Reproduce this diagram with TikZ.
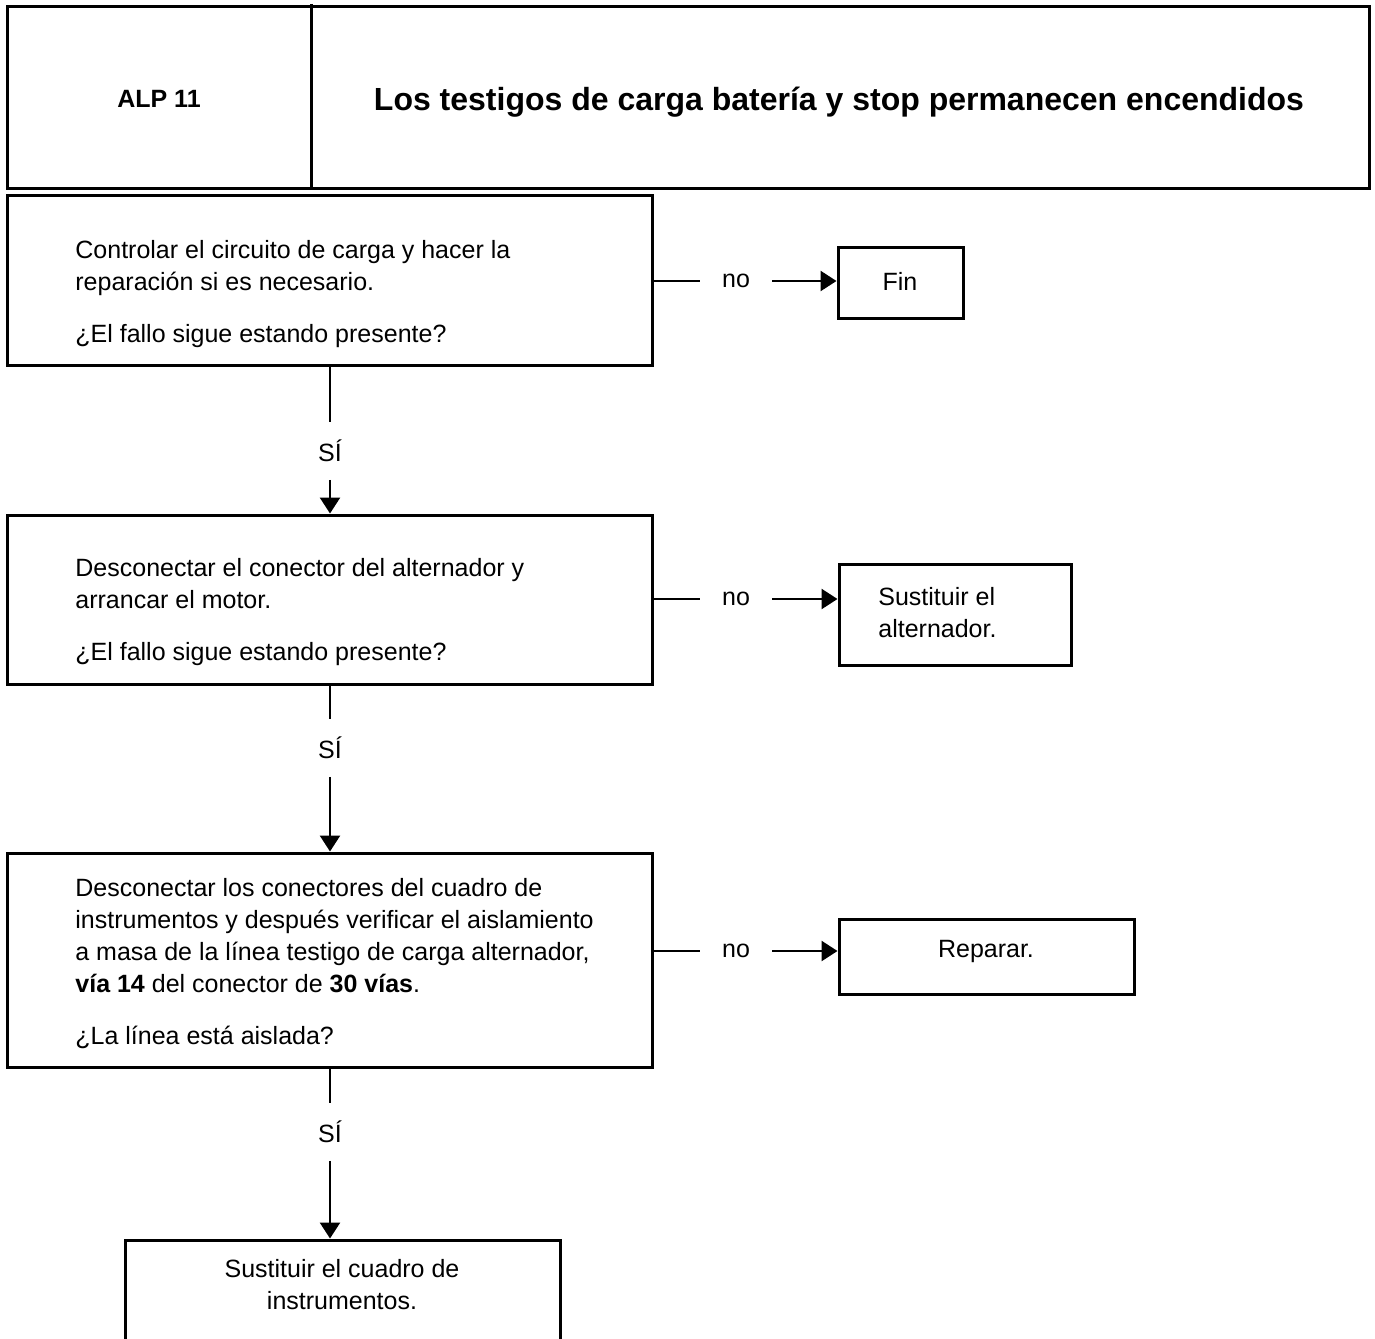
\documentclass[tikz,border=0pt]{standalone}
\usepackage{fontspec}
\setmainfont{Liberation Sans}
\usetikzlibrary{arrows.meta,fit}
\begin{document}
\begin{tikzpicture}[x=0.5pt,y=-0.5pt,
  frame/.style={draw,line width=1.5pt,inner sep=0pt},
  body/.style={inner sep=0pt,font=\fontsize{12.5pt}{16pt}\selectfont,align=left},
  lbl/.style={inner sep=0pt,font=\fontsize{12.5pt}{16pt}\selectfont},
  link/.style={line width=1.3pt},
  flow/.style={link,-{Triangle[length=8pt,width=10pt]}},
  nolbl/.style={lbl,inner xsep=11pt},
  silbl/.style={lbl,minimum height=28.5pt}]
\useasboundingbox (0,0) rectangle (1375,1338);
\clip (0,0) rectangle (1375,1338);

% header
\node[frame,fit={(7,7)(1369,188)}] (head) {};
\draw[line width=1.5pt] (311,4) -- (311,188);
\node[anchor=base,inner sep=0pt,font=\bfseries\fontsize{12.5pt}{15pt}\selectfont] (code) at (159,108) {ALP 11};
\node[anchor=base,inner sep=0pt,font=\bfseries\fontsize{16pt}{19pt}\selectfont] (title) at (839,111) {Los testigos de carga batería y stop permanecen encendidos};

% step 1
\node[frame,fit={(7,195)(652,365)}] (b1) {};
\node[body,anchor=north west] (t1) at (75,240) {Controlar el circuito de carga y hacer la\\ reparación si es necesario.\\[10pt] ¿El fallo sigue estando presente?};
\node[frame,fit={(838,247)(963,318)}] (fin) {};
\node[lbl] (tfin) at (900,281) {Fin};
\node[nolbl] (n1) at (736,281) {no};
\draw[link] (n1.west -| b1.east) -- (n1.west);
\draw[flow] (n1.east) -- (fin.west |- n1);

\node[silbl] (s1) at (330,451) {SÍ};
\draw[link] (b1.south -| s1) -- (s1.north);

% step 2
\node[frame,fit={(7,515)(652,684)}] (b2) {};
\draw[flow] (s1.south) -- (b2.north -| s1);
\node[body,anchor=north west] (t2) at (75,558) {Desconectar el conector del alternador y\\ arrancar el motor.\\[10pt] ¿El fallo sigue estando presente?};
\node[frame,fit={(839,564)(1071,665)}] (alt) {};
\node[body,anchor=north west] (talt) at (878,587) {Sustituir el\\ alternador.};
\node[nolbl] (n2) at (736,599) {no};
\draw[link] (n2.west -| b2.east) -- (n2.west);
\draw[flow] (n2.east) -- (alt.west |- n2);

\node[silbl] (s2) at (330,748) {SÍ};
\draw[link] (b2.south -| s2) -- (s2.north);

% step 3
\node[frame,fit={(7,853)(652,1067)}] (b3) {};
\draw[flow] (s2.south) -- (b3.north -| s2);
\node[body,anchor=north west] (t3) at (75,878) {Desconectar los conectores del cuadro de\\ instrumentos y después verificar el aislamiento\\ a masa de la línea testigo de carga alternador,\\ \textbf{vía 14} del conector de \textbf{30 vías}.\\[10pt] ¿La línea está aislada?};
\node[frame,fit={(839,919)(1134,994)}] (rep) {};
\node[lbl] (trep) at (986,951) {Reparar.};
\node[nolbl] (n3) at (736,951) {no};
\draw[link] (n3.west -| b3.east) -- (n3.west);
\draw[flow] (n3.east) -- (rep.west |- n3);

\node[silbl] (s3) at (330,1132) {SÍ};
\draw[link] (b3.south -| s3) -- (s3.north);

% step 4
\node[frame,fit={(125,1240)(560,1360)}] (b4) {};
\draw[flow] (s3.south) -- (b4.north -| s3);
\node[body,align=center,anchor=north] (t4) at (342,1259) {Sustituir el cuadro de\\ instrumentos.};
\end{tikzpicture}
\end{document}
